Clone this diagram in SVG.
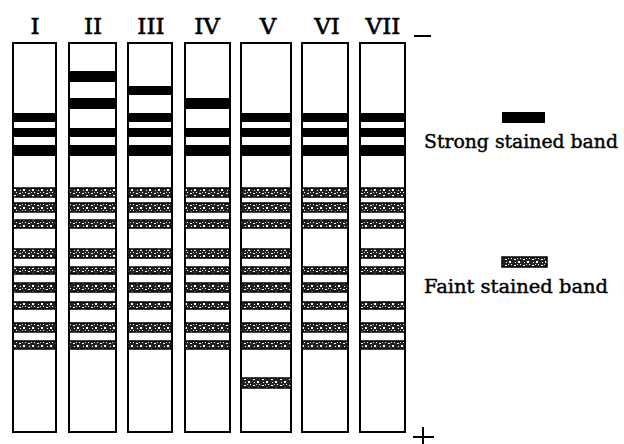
<svg xmlns="http://www.w3.org/2000/svg" width="624" height="444" viewBox="0 0 624 444">
<style>
.lane{fill:#fff;stroke:#000;stroke-width:2}
.s{fill:#000}
.f{fill:url(#stip);stroke:#000;stroke-width:1.5}
.lbl{font-family:"DejaVu Serif","Liberation Serif",serif;font-size:23px;fill:#000;stroke:#000;stroke-width:0.6;text-anchor:middle}
.leg{font-family:"DejaVu Serif","Liberation Serif",serif;font-size:18px;fill:#000;stroke:#000;stroke-width:0.4}
.sign{stroke:#000;stroke-width:2;fill:none}
</style>
<defs>
<pattern id="stip" width="9" height="6" patternUnits="userSpaceOnUse">
<rect width="9" height="6" fill="#222"/>
<rect x="1" y="1" width="2" height="1" fill="#fff"/>
<rect x="5" y="3" width="2" height="2" fill="#fff"/>
<rect x="7" y="0" width="1" height="1" fill="#fff"/>
<rect x="2" y="4" width="1" height="1" fill="#fff"/>
<rect x="4" y="0" width="1" height="1" fill="#ccc"/>
</pattern>
</defs>
<rect width="624" height="444" fill="#fff"/>

<g id="lane-I">
<text class="lbl" x="35" y="34">I</text>
<rect class="lane" x="13" y="43" width="43" height="389"/>
<rect class="s" x="13" y="113" width="43" height="9"/>
<rect class="s" x="13" y="128" width="43" height="9"/>
<rect class="s" x="13" y="145" width="43" height="11"/>
<rect class="f" x="13" y="188" width="43" height="9"/>
<rect class="f" x="13" y="203" width="43" height="9"/>
<rect class="f" x="13" y="220" width="43" height="8"/>
<rect class="f" x="13" y="249" width="43" height="9"/>
<rect class="f" x="13" y="267" width="43" height="7"/>
<rect class="f" x="13" y="283" width="43" height="9"/>
<rect class="f" x="13" y="302" width="43" height="7"/>
<rect class="f" x="13" y="323" width="43" height="9"/>
<rect class="f" x="13" y="341" width="43" height="8"/>
</g>

<g id="lane-II">
<text class="lbl" x="93" y="34">II</text>
<rect class="lane" x="69" y="43" width="47" height="389"/>
<rect class="s" x="69" y="71" width="47" height="11"/>
<rect class="s" x="69" y="98" width="47" height="11"/>
<rect class="s" x="69" y="128" width="47" height="9"/>
<rect class="s" x="69" y="145" width="47" height="11"/>
<rect class="f" x="69" y="188" width="47" height="9"/>
<rect class="f" x="69" y="203" width="47" height="9"/>
<rect class="f" x="69" y="220" width="47" height="8"/>
<rect class="f" x="69" y="249" width="47" height="9"/>
<rect class="f" x="69" y="267" width="47" height="7"/>
<rect class="f" x="69" y="283" width="47" height="9"/>
<rect class="f" x="69" y="302" width="47" height="7"/>
<rect class="f" x="69" y="323" width="47" height="9"/>
<rect class="f" x="69" y="341" width="47" height="8"/>
</g>

<g id="lane-III">
<text class="lbl" x="151" y="34">III</text>
<rect class="lane" x="128" y="43" width="44" height="389"/>
<rect class="s" x="128" y="86" width="44" height="9"/>
<rect class="s" x="128" y="113" width="44" height="9"/>
<rect class="s" x="128" y="128" width="44" height="9"/>
<rect class="s" x="128" y="145" width="44" height="11"/>
<rect class="f" x="128" y="188" width="44" height="9"/>
<rect class="f" x="128" y="203" width="44" height="9"/>
<rect class="f" x="128" y="220" width="44" height="8"/>
<rect class="f" x="128" y="249" width="44" height="9"/>
<rect class="f" x="128" y="267" width="44" height="7"/>
<rect class="f" x="128" y="283" width="44" height="9"/>
<rect class="f" x="128" y="302" width="44" height="7"/>
<rect class="f" x="128" y="323" width="44" height="9"/>
<rect class="f" x="128" y="341" width="44" height="8"/>
</g>

<g id="lane-IV">
<text class="lbl" x="207" y="34">IV</text>
<rect class="lane" x="185" y="43" width="45" height="389"/>
<rect class="s" x="185" y="98" width="45" height="11"/>
<rect class="s" x="185" y="128" width="45" height="9"/>
<rect class="s" x="185" y="145" width="45" height="11"/>
<rect class="f" x="185" y="188" width="45" height="9"/>
<rect class="f" x="185" y="203" width="45" height="9"/>
<rect class="f" x="185" y="220" width="45" height="8"/>
<rect class="f" x="185" y="249" width="45" height="9"/>
<rect class="f" x="185" y="267" width="45" height="7"/>
<rect class="f" x="185" y="283" width="45" height="9"/>
<rect class="f" x="185" y="302" width="45" height="7"/>
<rect class="f" x="185" y="323" width="45" height="9"/>
<rect class="f" x="185" y="341" width="45" height="8"/>
</g>

<g id="lane-V">
<text class="lbl" x="268" y="34">V</text>
<rect class="lane" x="241" y="43" width="50" height="389"/>
<rect class="s" x="241" y="113" width="50" height="9"/>
<rect class="s" x="241" y="128" width="50" height="9"/>
<rect class="s" x="241" y="145" width="50" height="11"/>
<rect class="f" x="241" y="188" width="50" height="9"/>
<rect class="f" x="241" y="203" width="50" height="9"/>
<rect class="f" x="241" y="220" width="50" height="8"/>
<rect class="f" x="241" y="249" width="50" height="9"/>
<rect class="f" x="241" y="267" width="50" height="7"/>
<rect class="f" x="241" y="283" width="50" height="9"/>
<rect class="f" x="241" y="302" width="50" height="7"/>
<rect class="f" x="241" y="323" width="50" height="9"/>
<rect class="f" x="241" y="341" width="50" height="8"/>
<rect class="f" x="241" y="378" width="50" height="10"/>
</g>

<g id="lane-VI">
<text class="lbl" x="327" y="34">VI</text>
<rect class="lane" x="302" y="43" width="46" height="389"/>
<rect class="s" x="302" y="113" width="46" height="9"/>
<rect class="s" x="302" y="128" width="46" height="9"/>
<rect class="s" x="302" y="145" width="46" height="11"/>
<rect class="f" x="302" y="188" width="46" height="9"/>
<rect class="f" x="302" y="203" width="46" height="9"/>
<rect class="f" x="302" y="220" width="46" height="8"/>
<rect class="f" x="302" y="267" width="46" height="7"/>
<rect class="f" x="302" y="283" width="46" height="9"/>
<rect class="f" x="302" y="302" width="46" height="7"/>
<rect class="f" x="302" y="323" width="46" height="9"/>
<rect class="f" x="302" y="341" width="46" height="8"/>
</g>

<g id="lane-VII">
<text class="lbl" x="383" y="34">VII</text>
<rect class="lane" x="360" y="43" width="45" height="389"/>
<rect class="s" x="360" y="113" width="45" height="9"/>
<rect class="s" x="360" y="128" width="45" height="9"/>
<rect class="s" x="360" y="145" width="45" height="11"/>
<rect class="f" x="360" y="188" width="45" height="9"/>
<rect class="f" x="360" y="203" width="45" height="9"/>
<rect class="f" x="360" y="220" width="45" height="8"/>
<rect class="f" x="360" y="249" width="45" height="9"/>
<rect class="f" x="360" y="267" width="45" height="7"/>
<rect class="f" x="360" y="302" width="45" height="7"/>
<rect class="f" x="360" y="323" width="45" height="9"/>
<rect class="f" x="360" y="341" width="45" height="8"/>
</g>

<g id="polarity">
<line class="sign" x1="414" y1="36" x2="431" y2="36"/>
<line class="sign" x1="413" y1="437" x2="434" y2="437"/>
<line class="sign" x1="423" y1="427" x2="423" y2="444"/>
</g>

<g id="legend-strong">
<rect class="s" x="502" y="112" width="43" height="11"/>
<text class="leg" x="424" y="148" textLength="194" lengthAdjust="spacingAndGlyphs">Strong stained band</text>
</g>

<g id="legend-faint">
<rect class="f" x="502" y="257" width="45" height="10"/>
<text class="leg" x="424" y="293" textLength="184" lengthAdjust="spacingAndGlyphs">Faint stained band</text>
</g>

<g id="connectors"/>
</svg>
